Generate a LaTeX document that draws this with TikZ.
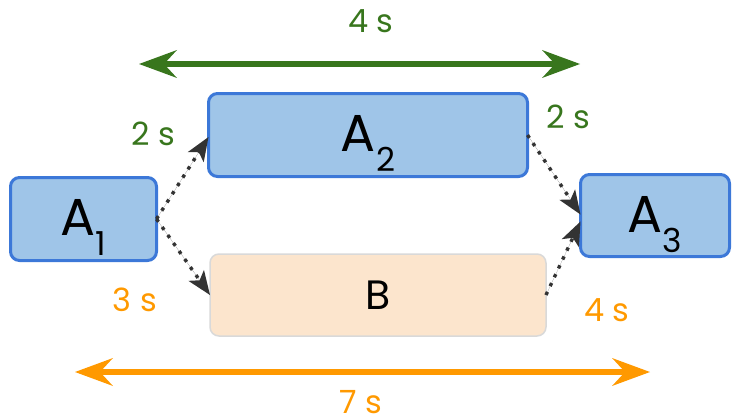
\documentclass[tikz,border=0pt]{standalone}
\usepackage{fontspec}
\setmainfont{Poppins}
\usetikzlibrary{arrows.meta,calc}
\definecolor{bluefill}{HTML}{9FC5E8}
\definecolor{blueline}{HTML}{3C78D8}
\definecolor{peach}{HTML}{FCE5CD}
\definecolor{grayline}{HTML}{D9D9D9}
\definecolor{dgreen}{HTML}{38761D}
\definecolor{orng}{HTML}{FF9900}
\definecolor{dotc}{HTML}{333333}
\newcommand{\Asub}[1]{A\raisebox{-20pt}{\fontsize{33}{33}\selectfont #1}}
\tikzset{
  abox/.style={draw=blueline, fill=bluefill, line width=3pt, rounded corners=9pt,
    inner sep=0pt, outer sep=0pt, font=\fontsize{52}{52}\selectfont,
    text height=33pt, text depth=0pt},
  bbox/.style={draw=grayline, fill=peach, line width=1.5pt, rounded corners=9pt,
    inner sep=0pt, outer sep=0pt, font=\fontsize{41}{41}\selectfont},
  lbl/.style={inner sep=0pt, font=\fontsize{32}{32}\selectfont},
  dotarrow/.style={draw=dotc, fill=dotc, line width=3.4pt, dash pattern=on 3.4pt off 6.4pt,
    -{Stealth[length=24pt,width=19pt,inset=6pt,line width=0pt]}},
  spanarrow/.style={line width=6pt,
    {Stealth[length=38pt,width=28pt,inset=13pt,line width=0pt]}-{Stealth[length=38pt,width=28pt,inset=13pt,line width=0pt]}}
}
\begin{document}
\begin{tikzpicture}[x=1pt,y=-1pt]
\useasboundingbox (0,0) rectangle (739,420);
% boxes
\node[abox, minimum width=146pt, minimum height=83pt] (A1) at (83.5,219) {\Asub{1}};
\node[abox, minimum width=319pt, minimum height=83pt] (A2) at (368,135) {\Asub{2}};
\node[abox, minimum width=149pt, minimum height=82pt] (A3) at (655,215.5) {\Asub{3}};
\node[bbox, minimum width=336pt, minimum height=82pt] (B) at (378,295) {B};
% dotted connectors
\draw[dotarrow] (A1.east) -- ([yshift=-2pt]A2.west);
\draw[dotarrow] (A1.east) -- (B.west);
\draw[dotarrow] (A2.east) -- ([yshift=1pt]A3.west);
\draw[dotarrow] (B.east) -- ([yshift=-6pt]A3.west);
% span arrows
\coordinate (g1) at (139,64);
\coordinate (g2) at (580,64);
\coordinate (o1) at (75,372);
\coordinate (o2) at (650,372);
\draw[spanarrow, draw=dgreen, fill=dgreen] (g1) -- (g2);
\draw[spanarrow, draw=orng, fill=orng] (o1) -- (o2);
% labels
\node[lbl, text=dgreen] (tg) at (371,21) {4 s};
\node[lbl, text=orng] (to) at (361,402) {7 s};
\node[lbl, text=dgreen] (l1) at (153,134) {2 s};
\node[lbl, text=dgreen] (l2) at (568,117) {2 s};
\node[lbl, text=orng] (l3) at (135,300) {3 s};
\node[lbl, text=orng] (l4) at (607,310) {4 s};
\end{tikzpicture}
\end{document}
